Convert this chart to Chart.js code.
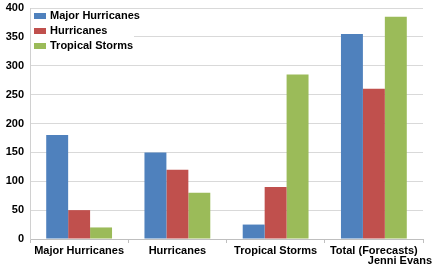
<!DOCTYPE html>
<html>
<head>
<meta charset="utf-8">
<script src="https://cdn.jsdelivr.net/npm/chart.js@4/dist/chart.umd.min.js"></script>
<style>
  html, body { margin: 0; padding: 0; background: #fff; }
  #wrap { width: 434px; height: 270px; }
</style>
</head>
<body>
<div id="wrap"><canvas id="chart" width="434" height="270"></canvas></div>
<script>
const categories = ["Major Hurricanes", "Hurricanes", "Tropical Storms", "Total (Forecasts)"];
const seriesNames = ["Major Hurricanes", "Hurricanes", "Tropical Storms"];
const majorHurricanes = [180, 150, 25, 355];
const hurricanes = [50, 120, 90, 260];
const tropicalStorms = [20, 80, 285, 385];
const yTicks = [0, 50, 100, 150, 200, 250, 300, 350, 400];
const credit = "Jenni Evans";

const colors = ["#4F81BD", "#C0504D", "#9BBB59"];
const font = "'Liberation Sans', Arial, sans-serif";

// legend drawn inside the plot area, on a white box, like the original
const insideLegend = {
  id: "insideLegend",
  afterDraw(chart) {
    const ctx = chart.ctx;
    const area = chart.chartArea;
    ctx.save();
    ctx.fillStyle = "#fff";
    ctx.fillRect(area.left + 1, area.top + 2, 103, 48);
    ctx.font = "bold 11px " + font;
    ctx.textBaseline = "middle";
    chart.data.datasets.forEach((ds, i) => {
      const y = area.top + 8 + i * 15;
      ctx.fillStyle = ds.backgroundColor;
      ctx.fillRect(area.left + 4, y - 3, 12, 6);
      ctx.fillStyle = "#000";
      ctx.fillText(ds.label, area.left + 20, y);
    });
    ctx.textAlign = "right";
    ctx.fillText(credit, 432, 261);
    ctx.restore();
  }
};

new Chart(document.getElementById("chart").getContext("2d"), {
  type: "bar",
  data: {
    labels: categories,
    datasets: [
      { label: seriesNames[0], data: majorHurricanes, backgroundColor: colors[0] },
      { label: seriesNames[1], data: hurricanes, backgroundColor: colors[1] },
      { label: seriesNames[2], data: tropicalStorms, backgroundColor: colors[2] },
    ],
  },
  options: {
    responsive: false,
    animation: false,
    layout: { padding: { top: 8, right: 11, bottom: 0, left: 0 } },
    datasets: { bar: { categoryPercentage: 0.67, barPercentage: 1.0, borderWidth: 0 } },
    plugins: {
      legend: { display: false },
      tooltip: { enabled: false },
    },
    scales: {
      x: {
        afterFit: (s) => { s.height = 31; s.paddingLeft = 0; s.paddingRight = 0; },
        grid: { offset: true, drawOnChartArea: false, tickLength: 4, color: "#bfbfbf" },
        border: { color: "#bfbfbf" },
        ticks: { padding: 1, color: "#000", font: { family: font, size: 11, weight: "bold" } },
      },
      y: {
        min: 0,
        max: 400,
        afterFit: (s) => { s.width = 30; s.paddingTop = 0; s.paddingBottom = 0; },
        afterBuildTicks: (s) => { s.ticks = yTicks.map((v) => ({ value: v })); },
        grid: { color: "#d9d9d9", tickLength: 0 },
        border: { color: "#d0d0d0" },
        ticks: { padding: 6, color: "#000", font: { family: font, size: 11, weight: "bold" } },
      },
    },
  },
  plugins: [insideLegend],
});
</script>
</body>
</html>
